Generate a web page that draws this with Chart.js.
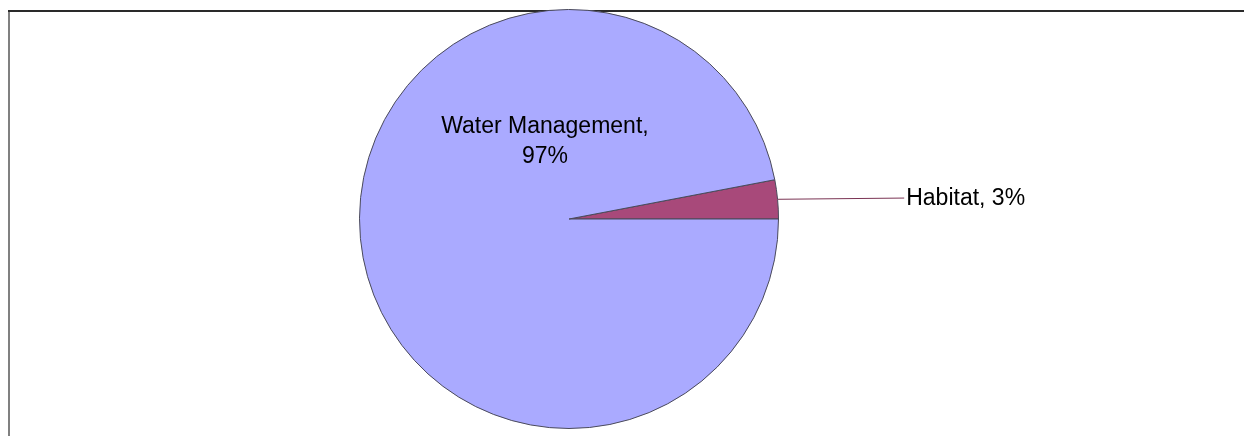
<!DOCTYPE html>
<html>
<head>
<meta charset="utf-8">
<script src="https://cdn.jsdelivr.net/npm/chart.js@4"></script>
<style>
  html, body { margin: 0; padding: 0; background: #fff; }
  #wrap { width: 1244px; height: 436px; }
</style>
</head>
<body>
<div id="wrap"><canvas id="pieCanvas" width="1244" height="436"></canvas></div>
<script>
// budget split
let sliceLabels = ['Habitat', 'Water Management'];
let slicePercents = [3, 97];
let sliceColors = ['#a8497a', '#aaaaff'];

// frame lines at top and left edge
const framePlugin = {
    id: 'frame',
    beforeDraw(chart) {
        let c = chart.ctx;
        c.save();
        c.fillStyle = '#808080';
        c.fillRect(8, 10, 2, 426);
        c.fillStyle = '#2a2a2a';
        c.fillRect(8, 10, 1236, 2);
        c.restore();
    }
};

// slice labels: one inside the big slice, one outside with a leader line
const sliceLabelPlugin = {
    id: 'sliceLabels',
    afterDraw(chart) {
        let c = chart.ctx;
        let arcs = chart.getDatasetMeta(0).data;
        c.save();
        c.font = '23px "Liberation Sans", Arial, sans-serif';
        c.fillStyle = '#000';

        // Water Management
        let w = arcs[1];
        let r = w.outerRadius;
        let lx = w.x - 0.115 * r;
        let ly = w.y - 0.41 * r;
        c.textAlign = 'center';
        c.textBaseline = 'alphabetic';
        c.fillText(sliceLabels[1] + ',', lx, ly);
        c.fillText(slicePercents[1] + '%', lx, ly + 30);

        // Habitat
        let h = arcs[0];
        let mid = (h.startAngle + h.endAngle) / 2;
        let sx = h.x + h.outerRadius * Math.cos(mid);
        let sy = h.y + h.outerRadius * Math.sin(mid);
        let ex = h.x + 1.6 * h.outerRadius;
        let ey = h.y - 0.1 * h.outerRadius;
        c.strokeStyle = '#7a3353';
        c.lineWidth = 1;
        c.beginPath();
        c.moveTo(sx, sy);
        c.lineTo(ex, ey);
        c.stroke();
        c.textAlign = 'left';
        c.textBaseline = 'middle';
        c.fillText(sliceLabels[0] + ', ' + slicePercents[0] + '%', ex + 2, ey + 1);
        c.restore();
    }
};

let total = slicePercents.reduce((a, b) => a + b, 0);
// start the small slice just above 3 o'clock so it ends on the horizontal
let startRotation = 90 - slicePercents[0] / total * 360;

let pieCtx = document.getElementById('pieCanvas').getContext('2d');
let pieChart = new Chart(pieCtx, {
    type: 'pie',
    data: {
        labels: sliceLabels,
        datasets: [{
            data: slicePercents,
            backgroundColor: sliceColors,
            borderColor: '#4a4a5a',
            borderWidth: 1
        }]
    },
    options: {
        responsive: false,
        animation: false,
        rotation: startRotation,
        layout: { padding: { top: 9, bottom: 7, left: 0, right: 106 } },
        plugins: {
            legend: { display: false },
            tooltip: { enabled: false },
            title: { display: false }
        }
    },
    plugins: [framePlugin, sliceLabelPlugin]
});
</script>
</body>
</html>
